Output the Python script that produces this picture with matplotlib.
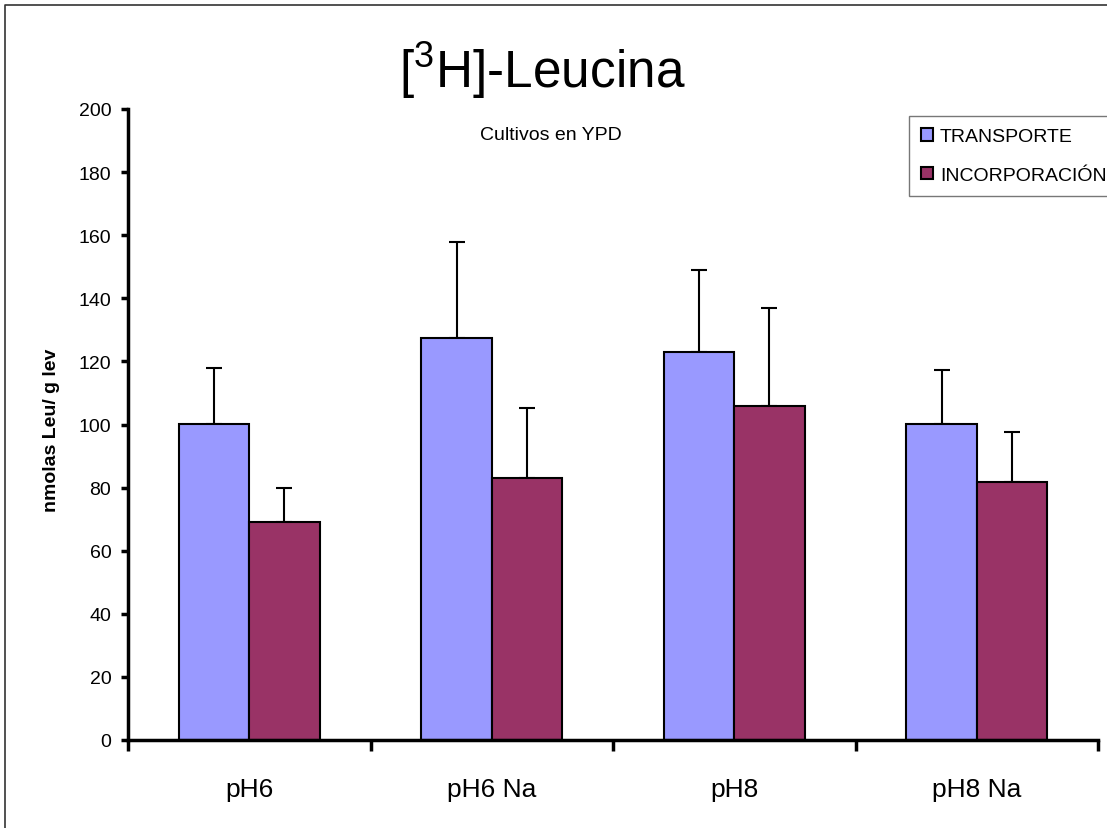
import matplotlib
matplotlib.use("Agg")
import matplotlib.pyplot as plt
import numpy as np
from matplotlib.lines import Line2D

plt.rcParams["font.family"] = ["Liberation Sans", "DejaVu Sans"]
plt.rcParams["mathtext.fontset"] = "custom"
plt.rcParams["mathtext.rm"] = "Liberation Sans"

# Leucine uptake per culture condition
categories = ["pH6", "pH6 Na", "pH8", "pH8 Na"]
transporte = [100.2, 127.4, 123.0, 100.2]
transporte_err = [17.8, 30.6, 26.0, 17.1]
incorporacion = [69.1, 83.0, 105.9, 81.8]
incorporacion_err = [10.8, 22.2, 31.0, 15.8]
y_ticks = [0, 20, 40, 60, 80, 100, 120, 140, 160, 180, 200]

COLOR_T = "#9999FF"
COLOR_I = "#993366"

W, H = 1107, 829
fig = plt.figure(figsize=(W / 100, H / 100), dpi=100)
ax = fig.add_axes([128 / W, 1 - 741 / H, (1098 - 128) / W, (741 - 110) / H])

x = np.arange(len(categories)) + 0.5
bw = 0.29

ax.bar(x - bw / 2, transporte, bw, color=COLOR_T, edgecolor="black",
       linewidth=1.5, label="TRANSPORTE", zorder=2)
ax.bar(x + bw / 2, incorporacion, bw, color=COLOR_I, edgecolor="black",
       linewidth=1.5, label="INCORPORACIÓN", zorder=2)

# upward-only error bars
zeros = [0] * len(categories)
ax.errorbar(x - bw / 2, transporte, yerr=[zeros, transporte_err], fmt="none",
            ecolor="black", elinewidth=1.5, capsize=5.5, capthick=1.5, zorder=1)
ax.errorbar(x + bw / 2, incorporacion, yerr=[zeros, incorporacion_err], fmt="none",
            ecolor="black", elinewidth=1.5, capsize=5.5, capthick=1.5, zorder=1)

ax.set_xlim(0, len(categories))
ax.set_ylim(0, 200)
ax.set_yticks(y_ticks)
ax.set_xticks(np.arange(len(categories) + 1))
ax.set_xticklabels([])
ax.set_xticks(x, minor=True)
ax.set_xticklabels(categories, minor=True)

for side in ["top", "right"]:
    ax.spines[side].set_visible(False)
for side in ["left", "bottom"]:
    ax.spines[side].set_linewidth(2.5)

ax.tick_params(axis="y", which="major", direction="out", length=5, width=2.5,
               labelsize=14, pad=7)
ax.tick_params(axis="x", which="major", direction="out", length=8, width=2.5)
ax.tick_params(axis="x", which="minor", length=0, labelsize=19, pad=27)

ax.set_ylabel("nmolas Leu/ g lev", fontsize=14, fontweight="bold")
ax.yaxis.set_label_coords(60 / W, 1 - 430 / H, transform=fig.transFigure)

fig.text(542 / W, 1 - 88 / H, "[$^3$H]-Leucina", fontsize=37, ha="center", va="baseline")
fig.text(551 / W, 1 - 135 / H, "Cultivos en YPD", fontsize=14, ha="center", va="center")

leg = ax.legend(loc="upper left", bbox_to_anchor=(909 / W, 1 - 117 / H),
                bbox_transform=fig.transFigure, fontsize=14, frameon=True,
                fancybox=False, edgecolor="#555555", handlelength=0.62,
                handleheight=0.62, handletextpad=0.35, borderpad=0.62,
                labelspacing=1.1, borderaxespad=0)
leg.get_frame().set_linewidth(1.0)

# outer frame of the chart area
fig.add_artist(Line2D([5 / W, 5 / W, 1], [0, 1 - 6 / H, 1 - 6 / H],
                      transform=fig.transFigure, color="#333333", linewidth=1.2))

fig.savefig("out.png", dpi=100)
